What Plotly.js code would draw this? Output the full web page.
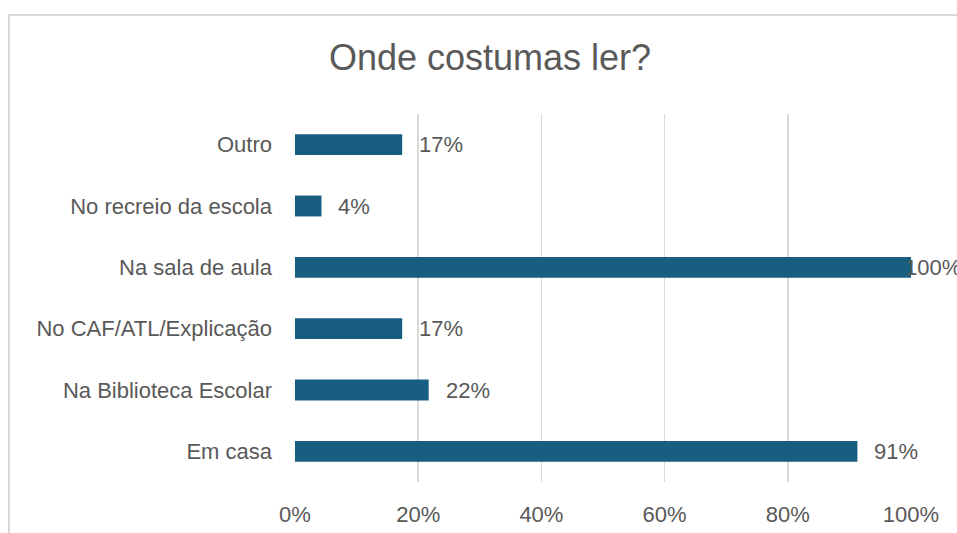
<!DOCTYPE html>
<html>
<head>
<meta charset="utf-8">
<script src="https://cdn.plot.ly/plotly-3.0.1.min.js"></script>
<style>
  html, body { margin: 0; padding: 0; background: #fff; overflow: hidden; }
  #wrap { position: relative; width: 957px; height: 533px; }
  #frame { position: absolute; left: 8px; top: 14px; width: 1000px; height: 600px;
           border-left: 2px solid #d9d9d9; border-top: 2px solid #d9d9d9; pointer-events: none; }
  #chart { position: absolute; left: 0; top: 0; width: 957px; height: 533px; }
</style>
</head>
<body>
<div id="wrap">
  <div id="chart"></div>
  <div id="frame"></div>
</div>
<script>
const categories = ["Em casa", "Na Biblioteca Escolar", "No CAF/ATL/Explicação", "Na sala de aula", "No recreio da escola", "Outro"];
const values = [0.913, 0.217, 0.174, 1.0, 0.043, 0.174];
const tickVals = [0, 0.2, 0.4, 0.6, 0.8, 1.0];
const tickText = ["0%", "20%", "40%", "60%", "80%", "100%"];
const chartTitle = "Onde costumas ler?";

const textColor = "#595959";
const fontFam = "'Liberation Sans', Arial, sans-serif";

const trace = {
  type: "bar",
  orientation: "h",
  x: values,
  y: categories,
  marker: { color: "#185e80", line: { width: 0 } },
  hoverinfo: "skip"
};

const annotations = values.map((v, i) => ({
  x: v, y: categories[i], xref: "x", yref: "y",
  text: Math.round(v * 100) + "%",
  showarrow: false, xanchor: "left", yanchor: "middle",
  xshift: v >= 1 ? -8 : 15,
  font: { family: fontFam, size: 22, color: textColor }
}));

const layout = {
  width: 957, height: 533,
  margin: { l: 295, r: 46, t: 114, b: 51 },
  paper_bgcolor: "#ffffff", plot_bgcolor: "#ffffff",
  showlegend: false,
  bargap: 0.66,
  title: { text: chartTitle, x: 0.512, xanchor: "center", y: 0.893, yanchor: "middle",
           font: { family: fontFam, size: 36, color: textColor } },
  xaxis: {
    range: [0, 1], tickvals: tickVals, ticktext: tickText,
    showgrid: true, gridcolor: "#d9d9d9", gridwidth: 1.5,
    zeroline: false, showline: false, ticks: "",
    ticklabelstandoff: 17,
    tickfont: { family: fontFam, size: 22, color: textColor },
    fixedrange: true
  },
  yaxis: {
    type: "category", categoryorder: "array", categoryarray: categories,
    showgrid: false, zeroline: false, showline: false, ticks: "",
    ticklabelstandoff: 22,
    tickfont: { family: fontFam, size: 22, color: textColor },
    fixedrange: true
  },
  annotations: annotations
};

Plotly.newPlot("chart", [trace], layout, { displayModeBar: false, staticPlot: true });
</script>
</body>
</html>
